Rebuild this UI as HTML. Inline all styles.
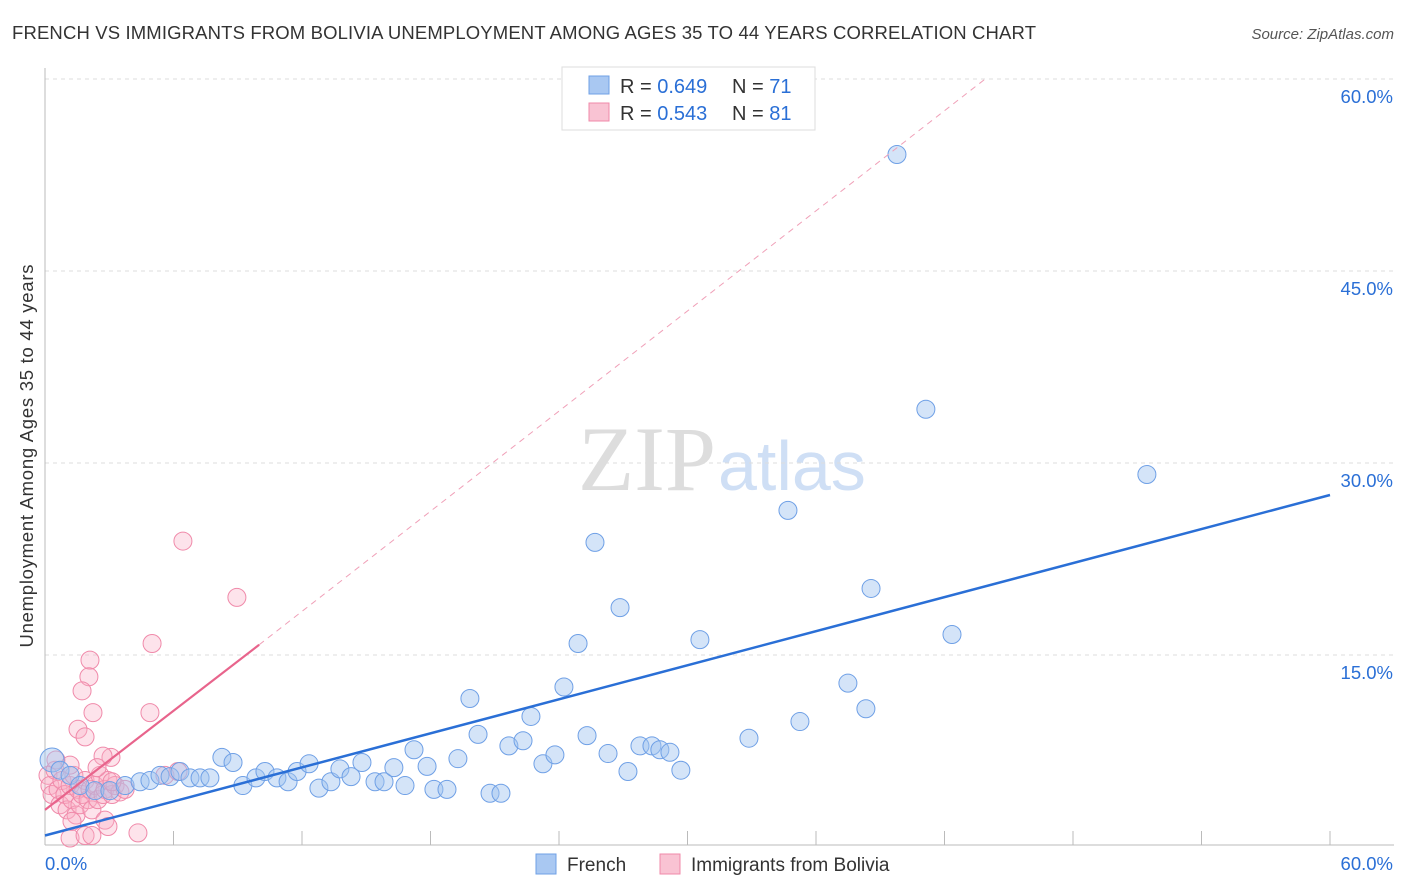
<!DOCTYPE html>
<html><head><meta charset="utf-8"><style>
body{margin:0;background:#fff;font-family:"Liberation Sans",sans-serif;}
svg{display:block}
</style></head><body>
<svg id="c" width="1406" height="892">
<text x="12" y="39" font-size="18.5" fill="#333" textLength="1024">FRENCH VS IMMIGRANTS FROM BOLIVIA UNEMPLOYMENT AMONG AGES 35 TO 44 YEARS CORRELATION CHART</text>
<text x="1394" y="39" font-size="15" fill="#555" font-style="italic" text-anchor="end">Source: ZipAtlas.com</text>
<text x="33" y="456" font-size="18.5" fill="#333" text-anchor="middle" textLength="383" transform="rotate(-90 33 456)">Unemployment Among Ages 35 to 44 years</text>
<text x="716" y="490" font-size="92" fill="#ddd" text-anchor="end" font-family="Liberation Serif,serif">ZIP</text>
<text x="718" y="490" font-size="70" fill="#cfdff5">atlas</text>
<g id="grid"></g><g id="pts"></g><g id="lines"></g>
<g>
<rect x="562" y="67" width="253" height="63" fill="#fff" stroke="#ddd"/>
<rect x="589" y="76" width="20" height="18" fill="#a9c8f2" stroke="#6fa0e6"/>
<text x="620" y="93" font-size="20" fill="#333">R = <tspan fill="#2a6fd6">0.649</tspan></text>
<text x="732" y="93" font-size="20" fill="#333">N = <tspan fill="#2a6fd6">71</tspan></text>
<rect x="589" y="103" width="20" height="18" fill="#f9c3d3" stroke="#f08aaa"/>
<text x="620" y="120" font-size="20" fill="#333">R = <tspan fill="#2a6fd6">0.543</tspan></text>
<text x="732" y="120" font-size="20" fill="#333">N = <tspan fill="#2a6fd6">81</tspan></text>
</g>
<g>
<rect x="536" y="854" width="20" height="20" fill="#a9c8f2" stroke="#6fa0e6"/>
<text x="567" y="871" font-size="19" fill="#333">French</text>
<rect x="660" y="854" width="20" height="20" fill="#f9c3d3" stroke="#f08aaa"/>
<text x="691" y="871" font-size="19" fill="#333">Immigrants from Bolivia</text>
</g>
</svg>
<script>
const yTicks=[15,30,45,60];
const yTickLabels=["15.0%","30.0%","45.0%","60.0%"];
const frenchX=[0.33,0.70,1.17,1.63,2.33,3.03,3.74,4.44,4.90,5.37,5.84,6.30,6.77,7.24,7.70,8.26,8.78,9.24,9.85,10.27,10.83,11.35,11.77,12.33,12.79,13.35,13.77,14.29,14.80,15.41,15.83,16.29,16.81,17.23,17.84,18.16,18.77,19.28,19.84,20.22,20.78,21.29,21.66,22.32,22.69,23.25,23.81,24.23,24.89,25.31,25.68,26.29,26.85,27.22,27.78,28.34,28.71,29.18,29.69,30.58,32.87,34.69,35.25,37.49,38.33,38.57,39.78,41.13,42.35,51.45];
const frenchY=[6.8,6.0,5.6,4.8,4.4,4.4,4.8,5.1,5.2,5.6,5.5,5.9,5.4,5.4,5.4,7.0,6.6,4.8,5.4,5.9,5.4,5.1,5.9,6.5,4.6,5.1,6.1,5.5,6.6,5.1,5.1,6.2,4.8,7.6,6.3,4.5,4.5,6.9,11.6,8.8,4.2,4.2,7.9,8.3,10.2,6.5,7.2,12.5,15.9,8.7,23.8,7.3,18.7,5.9,7.9,7.9,7.6,7.4,6.0,16.2,8.5,26.3,9.8,12.8,10.8,20.2,54.1,34.2,16.6,29.1];
const boliviaX=[0.14,0.23,0.33,0.47,0.61,0.70,0.79,0.93,1.03,1.17,1.26,1.35,1.45,1.54,1.63,1.73,1.87,2.01,2.10,2.19,2.33,2.47,2.57,2.71,2.80,2.94,3.13,3.27,3.50,3.74,0.51,1.17,2.10,2.05,1.73,2.24,1.54,1.87,6.44,8.96,5.00,4.90,3.08,2.71,2.43,3.13,2.80,1.17,1.87,2.19,4.34,5.60,6.21,2.94,1.26];
const boliviaY=[5.6,4.8,4.1,6.0,4.5,3.3,5.2,4.1,2.9,4.8,3.7,5.6,2.5,4.5,3.3,4.1,5.2,3.7,4.5,2.9,4.8,3.7,5.6,4.1,4.5,5.2,4.1,4.8,4.3,4.5,6.8,6.4,14.6,13.3,12.2,10.5,9.2,8.6,23.9,19.5,15.9,10.5,7.0,7.1,6.2,5.1,2.1,0.7,0.9,0.9,1.1,5.6,5.9,1.6,2.0];
const frenchTrend=[[0,0.9],[60,27.5]];
const boliviaTrend=[[0,2.9],[10,15.8]];
const boliviaTrendExt=[[10,15.8],[43.9,60]];
const X=v=>45+v/60*1285, Y=v=>847-v/15*192;
const NS="http://www.w3.org/2000/svg";
function mk(t,a,p){const e=document.createElementNS(NS,t);for(const k in a)e.setAttribute(k,a[k]);p.appendChild(e);return e;}
const svg=document.getElementById('c'),grid=document.getElementById('grid'),pts=document.getElementById('pts'),lines=document.getElementById('lines');
yTicks.forEach((t,i)=>{
 const l=mk('line',{x1:45,x2:1394,y1:Y(t),y2:Y(t),stroke:'#ddd','stroke-dasharray':'4,4'},grid);
 
 
 const tx=mk('text',{x:1393,y:Y(t)+24,'font-size':18.5,fill:'#2a6fd6','text-anchor':'end'},grid);tx.textContent=yTickLabels[i];
 
 
});
mk('line',{x1:45,x2:45,y1:68,y2:845,stroke:'#bbb'},grid);
mk('line',{x1:45,x2:1394,y1:845,y2:845,stroke:'#bbb'},grid);
for(let i=1;i<=10;i++){const tk=mk('line',{x1:X(i*6),x2:X(i*6),y1:831,y2:845,stroke:'#bbb'},grid);
 
 }
let t0=mk('text',{x:45,y:870,'font-size':18.5,fill:'#2a6fd6'},grid);t0.textContent='0.0%';


let t1=mk('text',{x:1393,y:870,'font-size':18.5,fill:'#2a6fd6','text-anchor':'end'},grid);t1.textContent='60.0%';


boliviaX.forEach((x,i)=>{const c=mk('circle',{cx:X(x),cy:Y(boliviaY[i]),r:9,fill:'rgba(248,175,198,0.35)',stroke:'#f08aaa','stroke-width':1},pts);
 
 });
frenchX.forEach((x,i)=>{const c=mk('circle',{cx:X(x),cy:Y(frenchY[i]),r:i==0?12:9,fill:'rgba(160,196,240,0.45)',stroke:'#6fa0e6','stroke-width':1},pts);
 
 });
let l1=mk('line',{x1:X(frenchTrend[0][0]),y1:Y(frenchTrend[0][1]),x2:X(frenchTrend[1][0]),y2:Y(frenchTrend[1][1]),stroke:'#2a6fd6','stroke-width':2.5},lines);


let l2=mk('line',{x1:X(boliviaTrend[0][0]),y1:Y(boliviaTrend[0][1]),x2:X(boliviaTrend[1][0]),y2:Y(boliviaTrend[1][1]),stroke:'#e8648c','stroke-width':2.2},lines);


let l3=mk('line',{x1:X(boliviaTrendExt[0][0]),y1:Y(boliviaTrendExt[0][1]),x2:X(boliviaTrendExt[1][0]),y2:Y(boliviaTrendExt[1][1]),stroke:'#f0a0b8','stroke-width':1,'stroke-dasharray':'6,5'},lines);


</script>
</body></html>
